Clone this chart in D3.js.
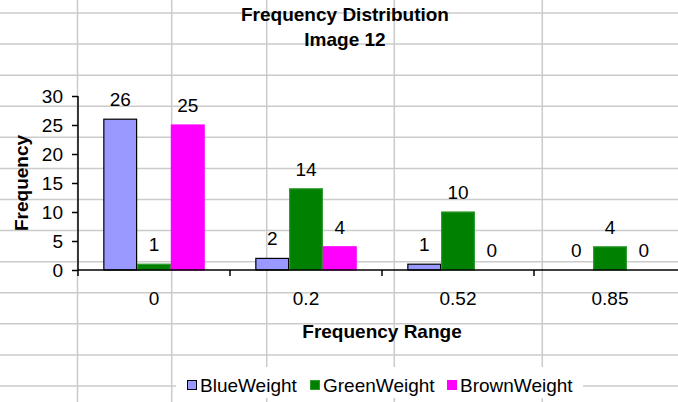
<!DOCTYPE html>
<html>
<head>
<meta charset="utf-8">
<script src="https://cdn.jsdelivr.net/npm/d3@7"></script>
<style>
  html, body { margin: 0; padding: 0; background: #fff; }
  svg { display: block; }
  text { font-family: "Liberation Sans", Arial, sans-serif; fill: #000; }
</style>
</head>
<body>
<svg id="chart" width="678" height="402"></svg>
<script>
// ---- data ----
const categories = ["0", "0.2", "0.52", "0.85"];
const seriesNames = ["BlueWeight", "GreenWeight", "BrownWeight"];
const blueWeight = [26, 2, 1, 0];
const greenWeight = [1, 14, 10, 4];
const brownWeight = [25, 4, 0, 0];
const yTicks = [0, 5, 10, 15, 20, 25, 30];
const titleLines = ["Frequency Distribution", "Image 12"];

// ---- layout / style ----
const W = 678, H = 402;
const plot = { left: 78, right: 686, top: 96, bottom: 270 };
const colors = { BlueWeight: "#9999FF", GreenWeight: "#008000", BrownWeight: "#FF00FF" };
const strokes = { BlueWeight: "#000000", GreenWeight: "#2f9a2f", BrownWeight: "#FF00FF" };
const valuesBySeries = { BlueWeight: blueWeight, GreenWeight: greenWeight, BrownWeight: brownWeight };
const FS = "19px";

const svg = d3.select("#chart");
svg.append("rect").attr("width", W).attr("height", H).attr("fill", "#fff");

// spreadsheet background grid
const gridG = svg.append("g").attr("stroke", "#cbcbcb").attr("stroke-width", 1.5);
const rowStart = 13, rowStep = 31.08;
for (let y = rowStart; y < H; y += rowStep) {
  gridG.append("line").attr("x1", 0).attr("x2", W).attr("y1", y).attr("y2", y);
}
[77.5, 171.7, 266.7, 394.3, 542.3].forEach(x => {
  gridG.append("line").attr("x1", x).attr("x2", x).attr("y1", 0).attr("y2", H);
});

// scales
const x0 = d3.scaleBand().domain(categories).range([plot.left, plot.right]).padding(0);
const catW = x0.bandwidth();
const barW = catW / 4.5;
const x1 = d3.scaleBand().domain(seriesNames)
  .range([0.75 * barW, 0.75 * barW + 3 * barW]).padding(0);
const y = d3.scaleLinear().domain([0, 30]).range([plot.bottom, plot.top]);

// bars
const data = [];
categories.forEach((c, i) => seriesNames.forEach(s => data.push({ cat: c, series: s, value: valuesBySeries[s][i] })));

const barsG = svg.append("g");
barsG.selectAll("rect").data(data.filter(d => d.value > 0)).join("rect")
  .attr("x", d => x0(d.cat) + x1(d.series) + 0.5)
  .attr("y", d => y(d.value))
  .attr("width", x1.bandwidth() - 1)
  .attr("height", d => y(0) - y(d.value))
  .attr("fill", d => colors[d.series])
  .attr("stroke", d => strokes[d.series])
  .attr("stroke-width", 1.2);

// data labels
svg.append("g").selectAll("text").data(data).join("text")
  .attr("x", d => x0(d.cat) + x1(d.series) + x1.bandwidth() / 2)
  .attr("y", d => y(d.value) - 13)
  .attr("text-anchor", "middle")
  .attr("font-size", FS)
  .text(d => d.value);

// y axis
const yAxisG = svg.append("g").attr("transform", `translate(${plot.left},0)`)
  .call(d3.axisLeft(y).tickValues(yTicks).tickSize(6).tickPadding(9).tickFormat(d3.format("d")));
yAxisG.select(".domain").attr("stroke", "#000").attr("stroke-width", 1.5).attr("d", `M0,${plot.top}V${plot.bottom}`);
yAxisG.selectAll(".tick line").attr("stroke", "#000").attr("stroke-width", 1.5);
yAxisG.selectAll(".tick text").attr("font-size", FS).attr("font-family", "Liberation Sans, Arial, sans-serif").attr("fill", "#000");

// x axis
svg.append("line")
  .attr("x1", plot.left).attr("x2", plot.right)
  .attr("y1", plot.bottom).attr("y2", plot.bottom)
  .attr("stroke", "#000").attr("stroke-width", 1.5);
const boundaries = categories.map(c => x0(c)).concat([x0(categories[categories.length - 1]) + catW]);
svg.append("g").selectAll("line").data(boundaries).join("line")
  .attr("x1", d => d).attr("x2", d => d)
  .attr("y1", plot.bottom).attr("y2", plot.bottom + 6)
  .attr("stroke", "#000").attr("stroke-width", 1.5);
svg.append("g").selectAll("text").data(categories).join("text")
  .attr("x", d => x0(d) + catW / 2)
  .attr("y", 305)
  .attr("text-anchor", "middle")
  .attr("font-size", FS)
  .text(d => d);

// titles
svg.append("g").selectAll("text").data(titleLines).join("text")
  .attr("x", 345)
  .attr("y", (d, i) => 21 + i * 25)
  .attr("text-anchor", "middle")
  .attr("font-size", "19px")
  .attr("font-weight", "bold")
  .text(d => d);

svg.append("text")
  .attr("x", (plot.left + plot.right) / 2)
  .attr("y", 338)
  .attr("text-anchor", "middle")
  .attr("font-size", "19px")
  .attr("font-weight", "bold")
  .text("Frequency Range");

svg.append("text")
  .attr("transform", `translate(28,${(plot.top + plot.bottom) / 2}) rotate(-90)`)
  .attr("text-anchor", "middle")
  .attr("font-size", "19px")
  .attr("font-weight", "bold")
  .text("Frequency");

// legend
const legend = svg.append("g");
legend.append("rect").attr("x", 176).attr("y", 367).attr("width", 407).attr("height", 31).attr("fill", "#fff");
const legendX = [187, 310, 447];
const items = legend.selectAll("g").data(seriesNames).join("g")
  .attr("transform", (d, i) => `translate(${legendX[i]},380)`);
items.append("rect")
  .attr("x", 0.5).attr("y", 0.5).attr("width", 9).attr("height", 9)
  .attr("fill", d => colors[d])
  .attr("stroke", d => d === "BlueWeight" ? "#000" : (d === "GreenWeight" ? "#2f9a2f" : colors[d]))
  .attr("stroke-width", 1);
items.append("text")
  .attr("x", 13).attr("y", 12)
  .attr("font-size", FS)
  .text(d => d);
</script>
</body>
</html>
